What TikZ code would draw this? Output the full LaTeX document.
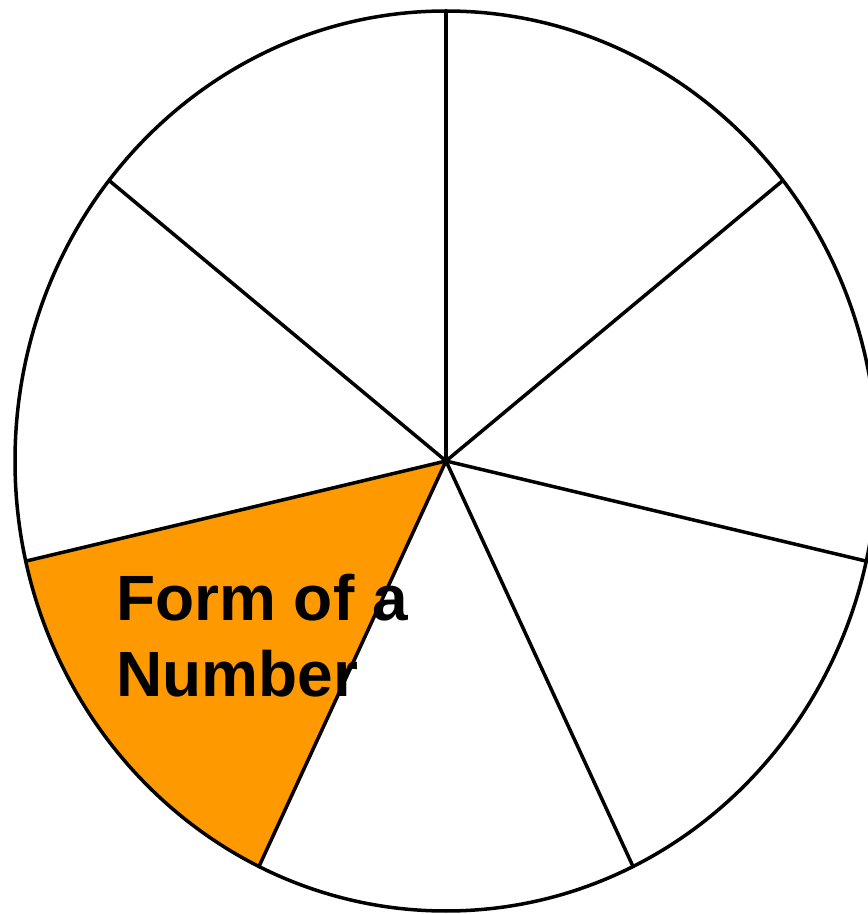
\documentclass[tikz,border=0pt]{standalone}
\usepackage{fontspec}
\setmainfont{Liberation Sans}
\usepackage{xcolor}
\definecolor{wedgeorange}{HTML}{FF9900}

\begin{document}
\begin{tikzpicture}[x=1pt, y=1pt,
    rim/.style = {draw, line width=3.5pt},
    spoke/.style = {draw, line width=3.5pt},
    wedge/.style = {fill=wedgeorange},
    label/.style = {font=\bfseries\fontsize{64}{76}\selectfont, align=left, inner sep=0pt}]
        \useasboundingbox (0,0) rectangle (868,914);
        \coordinate (c) at (446,453);
        % seven spokes, one every 360/7 degrees from the top
        \foreach \i in {0,...,6}
          \coordinate (p\i) at ({446+431*cos(90-\i*360/7)}, {453+450*sin(90-\i*360/7)});
        \fill[wedge] (c) -- (p5) arc[start angle={90-5*360/7}, end angle={90-4*360/7}, x radius=431pt, y radius=450pt] -- cycle;
        \foreach \i in {0,...,6}
          \draw[spoke] (c) -- (p\i);
        \draw[rim] (c) ellipse [x radius=431pt, y radius=450pt];
        \node[label, anchor=base west] (form) at (116,217) {Form of a\\Number};
      \end{tikzpicture}
\end{document}
